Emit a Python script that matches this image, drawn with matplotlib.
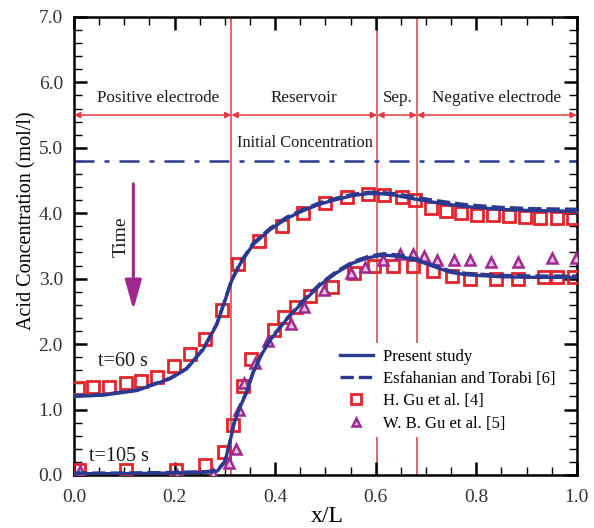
import numpy as np
import matplotlib
matplotlib.use("Agg")
import matplotlib.pyplot as plt
from matplotlib.ticker import MultipleLocator, FormatStrFormatter

plt.rcParams['font.family'] = ['Liberation Serif', 'DejaVu Serif']

# ---- simulation curves: present study ----
x_ps60 = [0.0, 0.058, 0.125, 0.191, 0.224, 0.257, 0.284, 0.300, 0.313, 0.330, 0.356,
          0.390, 0.423, 0.456, 0.489, 0.522, 0.555, 0.585, 0.608, 0.635, 0.661, 0.690,
          0.714, 0.750, 0.780, 0.847, 0.913, 1.0]
y_ps60 = [1.20, 1.22, 1.29, 1.47, 1.62, 1.92, 2.30, 2.66, 2.96, 3.22, 3.52,
          3.75, 3.92, 4.04, 4.14, 4.21, 4.27, 4.30, 4.30, 4.28, 4.24, 4.20,
          4.17, 4.13, 4.10, 4.06, 4.04, 4.03]

x_ps105 = [0.0, 0.10, 0.20, 0.260, 0.285, 0.300, 0.310, 0.318, 0.328, 0.343, 0.356,
           0.373, 0.390, 0.423, 0.456, 0.489, 0.522, 0.555, 0.585, 0.615, 0.648,
           0.681, 0.714, 0.747, 0.780, 0.847, 0.913, 1.0]
y_ps105 = [0.02, 0.02, 0.03, 0.04, 0.06, 0.20, 0.50, 0.78, 1.00, 1.26, 1.56,
           1.84, 2.06, 2.38, 2.65, 2.90, 3.09, 3.24, 3.32, 3.36, 3.34,
           3.28, 3.19, 3.10, 3.06, 3.03, 3.02, 3.02]

# ---- simulation curves: Esfahanian and Torabi [6] ----
x_et60 = x_ps60
y_et60 = [1.21, 1.23, 1.30, 1.48, 1.63, 1.93, 2.31, 2.67, 2.97, 3.24, 3.54,
          3.77, 3.94, 4.06, 4.16, 4.23, 4.29, 4.32, 4.32, 4.30, 4.27, 4.23,
          4.20, 4.16, 4.13, 4.09, 4.07, 4.06]
x_et105 = x_ps105
y_et105 = [0.03, 0.03, 0.04, 0.05, 0.07, 0.21, 0.51, 0.79, 1.01, 1.27, 1.57,
           1.85, 2.07, 2.39, 2.67, 2.92, 3.11, 3.26, 3.34, 3.38, 3.36,
           3.30, 3.21, 3.12, 3.08, 3.05, 3.04, 3.04]

# ---- H. Gu et al. [4] ----
x_hg60 = [0.007, 0.037, 0.070, 0.103, 0.133, 0.166, 0.199, 0.231, 0.260, 0.295, 0.326,
          0.368, 0.413, 0.456, 0.499, 0.542, 0.585, 0.616, 0.652, 0.678, 0.709, 0.740,
          0.770, 0.801, 0.834, 0.865, 0.897, 0.927, 0.960, 0.992]
y_hg60 = [1.33, 1.34, 1.35, 1.41, 1.44, 1.50, 1.67, 1.85, 2.08, 2.52, 3.22,
          3.57, 3.81, 4.00, 4.15, 4.25, 4.30, 4.28, 4.25, 4.20, 4.08, 4.03,
          4.00, 3.97, 3.97, 3.95, 3.94, 3.93, 3.93, 3.93]

x_hg105 = [0.010, 0.103, 0.203, 0.260, 0.298, 0.317, 0.337, 0.351, 0.398, 0.418,
           0.442, 0.469, 0.513, 0.557, 0.597, 0.635, 0.674, 0.714, 0.751, 0.787,
           0.840, 0.883, 0.934, 0.961, 0.994]
y_hg105 = [0.07, 0.07, 0.07, 0.15, 0.35, 0.77, 1.36, 1.77, 2.22, 2.42,
           2.57, 2.73, 2.88, 3.08, 3.20, 3.19, 3.19, 3.12, 3.04, 2.99,
           2.99, 2.99, 3.03, 3.03, 3.02]

# ---- W. B. Gu et al. [5] ----
x_wb105 = [0.012, 0.204, 0.277, 0.308, 0.322, 0.328, 0.338, 0.360, 0.386, 0.431,
           0.457, 0.498, 0.550, 0.578, 0.615, 0.648, 0.675, 0.696, 0.722, 0.755,
           0.787, 0.830, 0.883, 0.950, 0.999]
y_wb105 = [0.06, 0.00, 0.02, 0.19, 0.39, 0.99, 1.40, 1.71, 2.05, 2.31,
           2.56, 2.83, 3.08, 3.18, 3.28, 3.37, 3.37, 3.34, 3.29, 3.29,
           3.29, 3.26, 3.26, 3.31, 3.31]

# ---- cell layout ----
boundaries = [0.0, 0.313, 0.603, 0.682, 1.0]
region_names = ["Positive electrode", "Reservoir", "Sep.", "Negative electrode"]
initial_conc = 4.8

navy = '#2b3990'
red = '#e3242b'
purple = '#a0298f'
line_red = '#e23a45'
txt = '#1a1a1a'

fig = plt.figure(figsize=(5.94, 5.28), dpi=100)
ax = fig.add_axes([0.1246, 0.1004, 0.8465, 0.8676])

# region boundaries
for xb in boundaries[1:-1]:
    ax.plot([xb, xb], [0, 7], color=line_red, lw=1.1, zorder=1)

# region arrows and names
name_x = [0.167, 0.458, 0.643, 0.84]
for i, name in enumerate(region_names):
    ax.annotate('', xy=(boundaries[i + 1], 5.5), xytext=(boundaries[i], 5.5),
                arrowprops=dict(arrowstyle='<|-|>', color=line_red, lw=1.1,
                                mutation_scale=9, shrinkA=0, shrinkB=0))
    ax.text(name_x[i], 5.76, name, ha='center', va='center', fontsize=12.3,
            color=txt)

# initial concentration
ax.axhline(initial_conc, color=navy, lw=1.8, ls=(0, (8, 4, 2, 4)), zorder=2)
ax.text(0.46, 5.08, "Initial Concentration", ha='center', va='center',
        fontsize=11.8, color=txt)

# curves
ax.plot(x_ps60, y_ps60, color=navy, lw=2.4, zorder=4, label='Present study')
ax.plot(x_et60, y_et60, color=navy, lw=2.4, ls=(0, (4, 1.5)), zorder=4,
        label='Esfahanian and Torabi [6]')
ax.plot(x_ps105, y_ps105, color=navy, lw=2.4, zorder=4)
ax.plot(x_et105, y_et105, color=navy, lw=2.4, ls=(0, (4, 1.5)), zorder=4)

# experimental / reference points
ax.plot(x_hg60, y_hg60, ls='none', marker='s', ms=8.5, mfc='none', mec=red,
        mew=2.0, zorder=3, label='H. Gu et al. [4]')
ax.plot(x_hg105, y_hg105, ls='none', marker='s', ms=8.5, mfc='none', mec=red,
        mew=2.0, zorder=3)
ax.plot(x_wb105, y_wb105, ls='none', marker='^', ms=7, mfc='#e8c0e0', mec=purple,
        mew=1.8, zorder=3, label='W. B. Gu et al. [5]')

# time arrow
ax.annotate('', xy=(0.118, 2.52), xytext=(0.118, 4.45),
            arrowprops=dict(arrowstyle='-|>,head_length=1.3,head_width=0.36',
                            color=purple, lw=2.2, mutation_scale=14,
                            shrinkA=0, shrinkB=0))
ax.text(0.093, 3.64, "Time", rotation=90, ha='center', va='center',
        fontsize=14, color=txt)
ax.text(0.097, 1.73, "t=60 s", ha='center', va='center', fontsize=14.5,
        color=txt)
ax.text(0.09, 0.28, "t=105 s", ha='center', va='center', fontsize=14.5,
        color=txt)

leg = ax.legend(loc='upper left', bbox_to_anchor=(0.50, 0.307), fontsize=12,
                frameon=True, handlelength=2.0, handletextpad=0.6,
                labelspacing=0.38, borderpad=0.35, markerscale=0.85)
leg.get_frame().set_edgecolor('none')
leg.get_frame().set_facecolor('white')
leg.get_frame().set_alpha(1.0)
leg.set_zorder(5)

ax.set_xlim(0, 1.0)
ax.set_ylim(0, 7.0)
ax.xaxis.set_major_locator(MultipleLocator(0.2))
ax.xaxis.set_minor_locator(MultipleLocator(0.05))
ax.yaxis.set_major_locator(MultipleLocator(1.0))
ax.yaxis.set_minor_locator(MultipleLocator(0.2))
ax.xaxis.set_major_formatter(FormatStrFormatter('%.1f'))
ax.yaxis.set_major_formatter(FormatStrFormatter('%.1f'))
ax.tick_params(which='both', direction='in', top=True, right=True,
               labelsize=14, labelcolor='#333333')
ax.tick_params(which='major', length=9.5, width=1.8)
ax.tick_params(which='minor', length=6, width=1.0)
ax.tick_params(axis='x', pad=10)
ax.tick_params(axis='y', pad=8)
for sp in ax.spines.values():
    sp.set_linewidth(1.8)

ax.set_xlabel("x/L", fontsize=17)
ax.xaxis.set_label_coords(0.503, -0.068)
ax.set_ylabel("Acid Concentration (mol/l)", fontsize=14.5)
ax.yaxis.set_label_coords(-0.074, 0.555)

fig.savefig("out.png", dpi=100)
